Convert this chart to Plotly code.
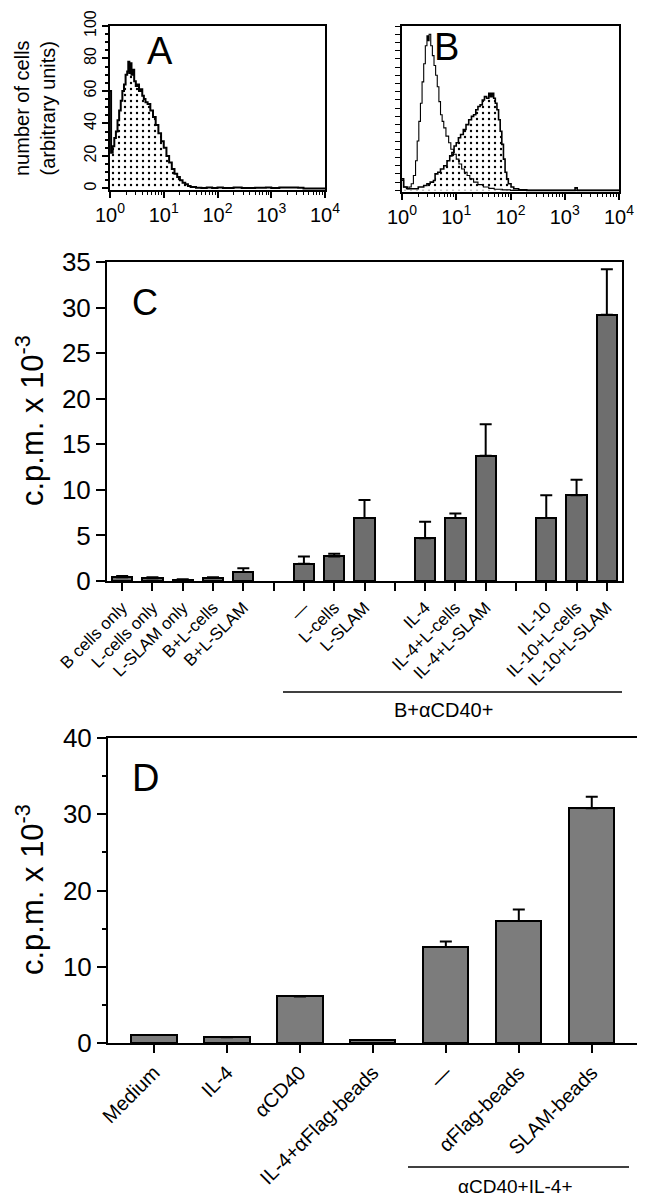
import numpy as np
import plotly.graph_objects as go

W, H = 645, 1199
OFF = 8  # page body margin of the written html page
FONT = "Liberation Sans, Arial, Helvetica, sans-serif"

# ---------------- data ----------------
# Panel A histogram (log10 fluorescence, cell count)
a_log = [0.00, 0.02, 0.05, 0.08, 0.11, 0.14, 0.17, 0.20, 0.23, 0.26, 0.29, 0.32, 0.34,
         0.36, 0.38, 0.40, 0.42, 0.45, 0.48, 0.51, 0.54, 0.57, 0.60, 0.63, 0.66, 0.70,
         0.75, 0.80, 0.85, 0.90, 0.95, 1.00, 1.05, 1.10, 1.15, 1.20, 1.25, 1.30, 1.35,
         1.40, 1.45, 1.50, 1.60, 1.70, 1.80, 1.90, 2.00, 2.10, 2.30, 2.45, 2.70, 2.90,
         3.00, 3.15, 3.50, 3.60, 4.00]
a_count = [60, 22, 26, 31, 35, 42, 48, 54, 60, 64, 70, 72, 78,
           71, 77, 70, 73, 66, 63, 64, 60, 61, 57, 55, 53, 52,
           48, 44, 39, 34, 29, 25, 20, 16, 12, 9, 7, 5, 3.5,
           2.5, 1.5, 0.8, 0.4, 0.3, 0.6, 0.2, 0.5, 0.2, 0.5, 0.2, 0.4, 0.5,
           0.2, 0.5, 0.4, 0.0, 0.0]

# Panel B histograms
b_open_log = [0.00, 0.03, 0.08, 0.13, 0.17, 0.21, 0.25, 0.28, 0.31, 0.34, 0.37, 0.40,
              0.43, 0.46, 0.48, 0.50, 0.53, 0.56, 0.59, 0.62, 0.65, 0.68, 0.71, 0.74,
              0.77, 0.81, 0.86, 0.90, 0.95, 1.00, 1.05, 1.10, 1.15, 1.20, 1.25, 1.32,
              1.40, 1.50, 1.60, 1.70, 1.85, 2.00, 4.00]
b_open_count = [6, 2, 1, 2, 4, 9, 18, 30, 42, 53, 66, 77,
                88, 94, 91, 95, 88, 82, 76, 70, 63, 54, 46, 42,
                38, 33, 29, 25, 22, 19, 16, 13, 11, 9, 7, 5,
                3.5, 2, 1.2, 0.7, 0.3, 0, 0]

b_fill_log = [0.00, 0.03, 0.10, 0.20, 0.30, 0.40, 0.46, 0.52, 0.58, 0.61, 0.66, 0.71,
              0.77, 0.83, 0.88, 0.92, 0.96, 1.00, 1.04, 1.08, 1.13, 1.18, 1.23, 1.28,
              1.32, 1.36, 1.40, 1.44, 1.48, 1.52, 1.56, 1.60, 1.63, 1.66, 1.69, 1.72,
              1.75, 1.78, 1.81, 1.84, 1.87, 1.90, 1.93, 1.96, 2.01, 2.06, 2.15, 2.30,
              3.15, 3.19, 3.23, 4.00]
b_fill_count = [7, 2, 1, 1, 2, 3, 4, 5, 6, 10, 11, 13,
                15, 18, 21, 23, 27, 29, 32, 34, 37, 40, 43, 45,
                46, 49, 51, 52, 55, 57, 56, 59, 57, 59, 56, 53,
                49, 43, 36, 28, 19, 11, 7, 4, 2, 1, 0.4, 0,
                0, 1.5, 0, 0]

hist_tick_vals = [1, 10, 100, 1000, 10000]
hist_tick_text = ["10<sup>0</sup>", "10<sup>1</sup>", "10<sup>2</sup>",
                  "10<sup>3</sup>", "10<sup>4</sup>"]

# Panel C (c.p.m. x 10^-3); None = empty slot
c_cats = ["B cells only", "L-cells only", "L-SLAM only", "B+L-cells", "B+L-SLAM", " ",
          "—", "L-cells", "L-SLAM", "  ",
          "IL-4", "IL-4+L-cells", "IL-4+L-SLAM", "   ",
          "IL-10", "IL-10+L-cells", "IL-10+L-SLAM"]
c_vals = [0.4, 0.3, 0.15, 0.35, 1.0, None,
          1.9, 2.7, 6.9, None,
          4.7, 6.9, 13.75, None,
          6.9, 9.4, 29.2]
c_err = [0.15, 0.1, 0.05, 0.05, 0.4, 0,
         0.8, 0.3, 2.0, 0,
         1.8, 0.5, 3.45, 0,
         2.5, 1.7, 5.0]

# Panel D
d_cats = ["Medium", "IL-4", "αCD40", "IL-4+αFlag-beads", "—", "αFlag-beads", "SLAM-beads"]
d_vals = [1.05, 0.75, 6.1, 0.4, 12.6, 16.0, 30.8]
d_err = [0, 0, 0, 0, 0.7, 1.5, 1.5]

# ---------------- helpers (pixel -> paper, compensating page margin) ----------------
def px(x):
    return (x - OFF) / W

def py(y):
    return 1 - (y - OFF) / H

def dx(p0, p1):
    return [px(p0), px(p1)]

def dy(top, bottom):
    return [py(bottom), py(top)]

fig = go.Figure()

dots = dict(shape=".", size=6, solidity=0.12, fgcolor="black", bgcolor="white")

# A
fig.add_trace(go.Scatter(x=np.power(10.0, a_log), y=a_count, mode="lines",
                         line=dict(color="black", width=2, shape="hv"),
                         fill="tozeroy", fillpattern=dots, fillcolor="white",
                         xaxis="x", yaxis="y", showlegend=False))
# B
fig.add_trace(go.Scatter(x=np.power(10.0, b_fill_log), y=b_fill_count, mode="lines",
                         line=dict(color="black", width=1.6, shape="hv"),
                         fill="tozeroy", fillpattern=dots, fillcolor="white",
                         xaxis="x2", yaxis="y2", showlegend=False))
fig.add_trace(go.Scatter(x=np.power(10.0, b_open_log), y=b_open_count, mode="lines",
                         line=dict(color="black", width=1.1, shape="hv"),
                         xaxis="x2", yaxis="y2", showlegend=False))

# C
fig.add_trace(go.Bar(x=c_cats, y=c_vals, width=0.67,
                     marker=dict(color="#6e6e6e", line=dict(color="black", width=2)),
                     error_y=dict(type="data", array=c_err, arrayminus=[0] * len(c_err),
                                  symmetric=False, color="black", thickness=2, width=6),
                     xaxis="x3", yaxis="y3", showlegend=False))
# D
fig.add_trace(go.Bar(x=d_cats, y=d_vals, width=0.62,
                     marker=dict(color="#7c7c7c", line=dict(color="black", width=2)),
                     error_y=dict(type="data", array=d_err, arrayminus=[0] * len(d_err),
                                  symmetric=False, color="black", thickness=2, width=6),
                     xaxis="x4", yaxis="y4", showlegend=False))

minor_log = [m * 10 ** k for k in range(4) for m in range(2, 10)]

hist_x = dict(type="log", range=[0, 4], tickvals=hist_tick_vals, ticktext=hist_tick_text,
              ticks="outside", ticklen=6, tickwidth=1.5, tickcolor="black",
              minor=dict(tickvals=minor_log, ticks="outside", ticklen=3, tickwidth=1,
                         tickcolor="black"),
              showline=True, mirror=True, linecolor="black", linewidth=1.5,
              showgrid=False, zeroline=False, ticklabeloverflow="allow",
              tickfont=dict(family=FONT, size=20, color="black"))

common_y = dict(showline=True, mirror=True, linecolor="black", linewidth=1.5,
                showgrid=False, zeroline=False, ticks="outside", tickcolor="black",
                ticklabeloverflow="allow")

fig.update_layout(
    width=W, height=H, template="none",
    paper_bgcolor="white", plot_bgcolor="white",
    margin=dict(l=0, r=0, t=0, b=0),
    font=dict(family=FONT, color="black"),
    bargap=0,
    xaxis=dict(domain=dx(110, 325), anchor="y", **hist_x),
    yaxis=dict(domain=dy(26, 190), anchor="x", range=[-1, 100], tickvals=[0, 20, 40, 60, 80, 100],
               ticklen=6, tickwidth=1.5, tickangle=-90,
               minor=dict(dtick=5, ticks="outside", ticklen=3, tickcolor="black"),
               tickfont=dict(family=FONT, size=16, color="black"), **common_y),
    xaxis2=dict(domain=dx(402, 619), anchor="y2", **hist_x),
    yaxis2=dict(domain=dy(26, 192), anchor="x2", range=[-1, 100], dtick=5, ticklen=5,
                tickwidth=1.2, showticklabels=False, **common_y),
    xaxis3=dict(domain=dx(107, 622), anchor="y3", type="category", categoryorder="array",
                categoryarray=c_cats, range=[-0.5, 16.5], tickangle=-45,
                ticks="outside", ticklen=8, tickwidth=2, tickcolor="black",
                showline=True, mirror=True, linecolor="black", linewidth=2,
                showgrid=False, zeroline=False, ticklabeloverflow="allow",
                tickfont=dict(family=FONT, size=17, color="black")),
    yaxis3=dict(domain=dy(262, 581), anchor="x3", range=[0, 35], dtick=5, ticklen=9,
                tickwidth=2, tickfont=dict(family=FONT, size=26, color="black"),
                **{**common_y, "linewidth": 2}),
    xaxis4=dict(domain=dx(108, 637), anchor="y4", type="category", categoryorder="array",
                categoryarray=d_cats, range=[-0.63, 6.62], tickangle=-45,
                ticks="outside", ticklen=8, tickwidth=2, tickcolor="black",
                showline=True, mirror=True, linecolor="black", linewidth=2,
                showgrid=False, zeroline=False, ticklabeloverflow="allow",
                tickfont=dict(family=FONT, size=20, color="black")),
    yaxis4=dict(domain=dy(738, 1043), anchor="x4", range=[0, 40], dtick=10, ticklen=9,
                tickwidth=2, minor=dict(dtick=5, ticks="outside", ticklen=4, tickwidth=1.5,
                                        tickcolor="black"),
                tickfont=dict(family=FONT, size=26, color="black"),
                **{**common_y, "linewidth": 2}),
)

ann = []
def label(text, x, y, size, angle=0):
    ann.append(dict(text=text, x=px(x), y=py(y), xref="paper", yref="paper",
                    showarrow=False, textangle=angle, xanchor="center", yanchor="middle",
                    font=dict(family=FONT, size=size, color="black")))

label("A", 160, 51, 38)
label("B", 446, 47, 38)
label("C", 145, 302, 36)
label("D", 145, 778, 38)
label("number of cells<br>(arbitrary units)", 35, 108, 20, -90)
label("c.p.m. x 10<sup>-3</sup>", 30, 421, 31, -90)
label("c.p.m. x 10<sup>-3</sup>", 30, 890, 31, -90)
label("B+αCD40+", 443, 710, 20)
label("αCD40+IL-4+", 515, 1186, 19)
fig.update_layout(annotations=ann)

fig.add_shape(type="line", xref="paper", yref="paper", x0=px(283), x1=px(622),
              y0=py(692), y1=py(692), line=dict(color="black", width=1.5))
fig.add_shape(type="line", xref="paper", yref="paper", x0=px(408), x1=px(629),
              y0=py(1167), y1=py(1167), line=dict(color="black", width=1.5))

fig.write_html("out.html")
